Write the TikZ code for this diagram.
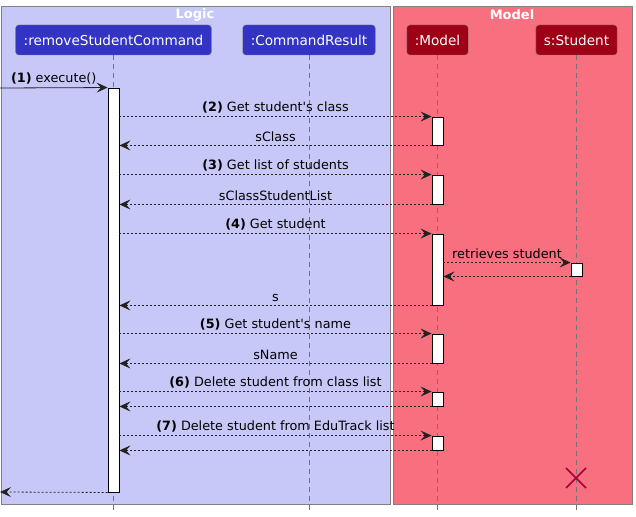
\documentclass[tikz,border=0pt]{standalone}
\usepackage{fontspec}
\setmainfont{DejaVu Sans}
\usetikzlibrary{arrows.meta}
\definecolor{logicbg}{RGB}{200,200,248}
\definecolor{modelbg}{RGB}{248,112,128}
\definecolor{logicpart}{RGB}{51,51,196}
\definecolor{modelpart}{RGB}{158,0,22}
\definecolor{killred}{RGB}{168,0,54}
\definecolor{msgline}{RGB}{34,34,34}
\tikzset{
    part/.style={rounded corners=3pt,draw=black!50,text=white,minimum height=30,
        inner xsep=8,font=\fontsize{13.6}{16}\selectfont},
    act/.style={draw=black,fill=white,minimum width=11,inner sep=0,line width=0.9},
    lifeline/.style={dash pattern=on 5 off 4,draw=black!55,line width=0.8},
    call/.style={msgline,line width=0.8,-{Stealth[length=11,width=10,inset=4.5]}},
    ret/.style={call,dash pattern=on 2 off 2},
    msg/.style={midway,above=0,text=black,font=\fontsize{12.8}{15}\selectfont},
}
\begin{document}
\begin{tikzpicture}[x=1pt,y=-1pt]
    \useasboundingbox[fill=white] (0,0) rectangle (636,516);
    % boxes
    \draw[fill=logicbg,draw=black!50] (1,6) rectangle (390,504);
    \draw[fill=modelbg,draw=black!50] (393,6) rectangle (632,504);
    \node[text=white,font=\bfseries\fontsize{13}{15}\selectfont] (logic) at (195,14.5) {Logic};
    \node[text=white,font=\bfseries\fontsize{13}{15}\selectfont] (model) at (512,14.5) {Model};
    % participants
    \node[part,fill=logicpart] (cmd) at (113.5,40) {:removeStudentCommand};
    \node[part,fill=logicpart] (res) at (309,40) {:CommandResult};
    \node[part,fill=modelpart] (mdl) at (437.5,40) {:Model};
    \node[part,fill=modelpart] (stu) at (576.5,40) {s:Student};
    \foreach \p in {cmd,res,mdl,stu}
        \draw[lifeline] (\p.south) -- (\p.south |- 0,513);
    % activations
    \node[act,minimum height=404] (cmdact) at (113.5,290) {};
    \node[act,minimum height=28] (a2) at (437.5,131) {};
    \node[act,minimum height=29] (a3) at (437.5,189.5) {};
    \node[act,minimum height=71] (a4) at (437.5,269.5) {};
    \node[act,minimum height=13] (s4) at (576.5,269.5) {};
    \node[act,minimum height=29] (a5) at (437.5,348.5) {};
    \node[act,minimum height=14] (a6) at (437.5,399) {};
    \node[act,minimum height=14] (a7) at (437.5,443) {};
    % messages
    \coordinate (start) at (0,88);
    \coordinate (finish) at (0,492);
    \draw[call] (start) -- (cmdact.north west)
        node[msg] {\textbf{(1)} execute()};
    \draw[ret] (cmdact.east |- a2.north) -- (a2.north west)
        node[msg] {\textbf{(2)} Get student\textquotesingle s class};
    \draw[ret] (a2.south west) -- (cmdact.east |- a2.south)
        node[msg] {sClass};
    \draw[ret] (cmdact.east |- a3.north) -- (a3.north west)
        node[msg] {\textbf{(3)} Get list of students};
    \draw[ret] (a3.south west) -- (cmdact.east |- a3.south)
        node[msg] {sClassStudentList};
    \draw[ret] (cmdact.east |- a4.north) -- (a4.north west)
        node[msg] {\textbf{(4)} Get student};
    \draw[ret] (a4.east |- s4.north) -- (s4.north west)
        node[msg] {retrieves student};
    \draw[ret] (s4.south west) -- (a4.east |- s4.south);
    \draw[ret] (a4.south west) -- (cmdact.east |- a4.south)
        node[msg] {s};
    \draw[ret] (cmdact.east |- a5.north) -- (a5.north west)
        node[msg] {\textbf{(5)} Get student\textquotesingle s name};
    \draw[ret] (a5.south west) -- (cmdact.east |- a5.south)
        node[msg] {sName};
    \draw[ret] (cmdact.east |- a6.north) -- (a6.north west)
        node[msg] {\textbf{(6)} Delete student from class list};
    \draw[ret] (a6.south west) -- (cmdact.east |- a6.south);
    \draw[ret] (cmdact.east |- a7.north) -- (a7.north west)
        node[msg] {\textbf{(7)} Delete student from EduTrack list};
    \draw[ret] (a7.south west) -- (cmdact.east |- a7.south);
    \draw[ret] (cmdact.south west) -- (finish);
    % destroy
    \draw[killred,line width=1.6] (566,468) -- (586,488) (566,488) -- (586,468);
\end{tikzpicture}
\end{document}
